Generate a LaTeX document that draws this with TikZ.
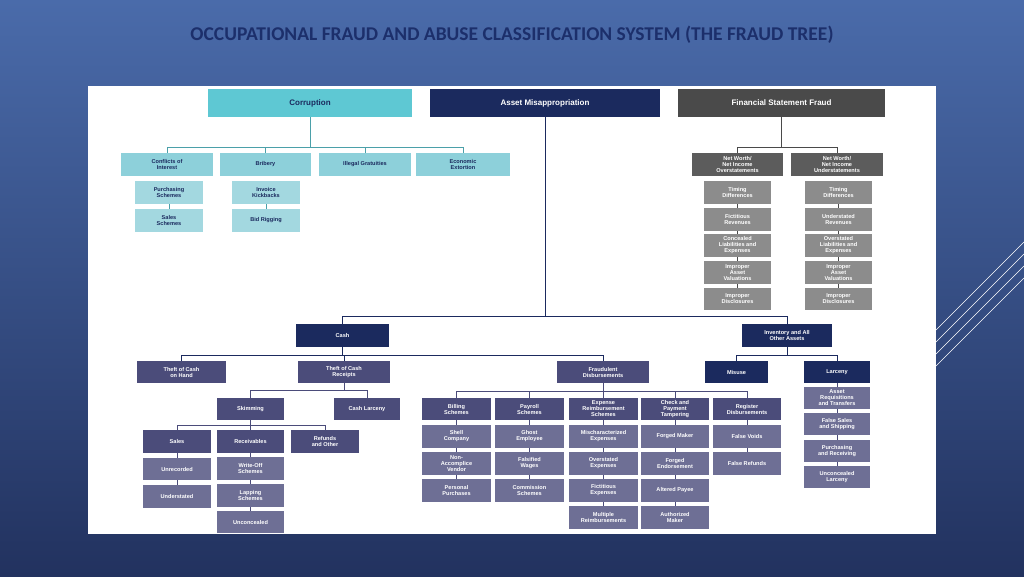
\documentclass[tikz,border=0pt]{standalone}
\usepackage{fontspec}
\setmainfont{Liberation Sans}
\newfontfamily\titlefont{Carlito}
\usetikzlibrary{calc}
\definecolor{bgtop}{HTML}{4A6BAA}
\definecolor{bgbot}{HTML}{22325F}
\definecolor{titleblue}{HTML}{1C2F6B}
\definecolor{teal}{HTML}{5EC8D3}
\definecolor{tealsub}{HTML}{8DD0DA}
\definecolor{tealleaf}{HTML}{A3D8E0}
\definecolor{navy}{HTML}{1B2A5E}
\definecolor{slate}{HTML}{4B4C7A}
\definecolor{slateleaf}{HTML}{6E6F95}
\definecolor{dgray}{HTML}{4A4A4A}
\definecolor{mgray}{HTML}{5C5C5C}
\definecolor{lgray}{HTML}{8C8C8C}

\tikzset{
  box/.style={inner sep=1pt, align=center, font=\fontsize{5.6}{6}\selectfont\bfseries},
  corr/.style={box, fill=tealsub, text=navy},
  corrleaf/.style={box, fill=tealleaf, text=navy},
  asset/.style={box, fill=navy, text=white},
  cash/.style={box, fill=slate, text=white},
  cashleaf/.style={box, fill=slateleaf, text=white},
  fsf/.style={box, fill=mgray, text=white},
  fsfleaf/.style={box, fill=lgray, text=white},
  tcon/.style={draw=teal!80!black, line width=1pt},
  acon/.style={draw=navy, line width=1pt},
  scon/.style={draw=slate, line width=1pt},
  gcon/.style={draw=dgray, line width=1pt},
}
% \bx[style]{name}{left}{top}{right}{bottom}{text}
\newcommand{\bx}[7][]{%
  \node[#1, minimum width=#5-#3, minimum height=#6-#4] (#2) at ({(#3+#5)/2},{(#4+#6)/2}) {#7};}

\begin{document}
\begin{tikzpicture}[x=1pt,y=-1pt]

%% Background
\shade[top color=bgtop, bottom color=bgbot] (0,0) rectangle (1024,576);
\useasboundingbox (0,0) rectangle (1024,576);
\node[text=titleblue, font=\titlefont\fontsize{19.5}{20}\selectfont\bfseries] (title) at (512,35) {OCCUPATIONAL FRAUD AND ABUSE CLASSIFICATION SYSTEM (THE FRAUD TREE)};
\fill[white] (88,86) rectangle (936,534);
\foreach \d in {0,12,24,36}{
  \draw[white, line width=0.6pt] (936,{330+\d}) -- (1024,{242+\d});
}

%% Top level
\bx[box, fill=teal, text=navy, font=\fontsize{8}{9}\selectfont\bfseries]{corruption}{208}{89}{412}{117}{Corruption}
\bx[asset, font=\fontsize{8}{9}\selectfont\bfseries]{assetmis}{430}{89}{660}{117}{Asset Misappropriation}
\bx[box, fill=dgray, text=white, font=\fontsize{8}{9}\selectfont\bfseries]{fsfraud}{678}{89}{885}{117}{Financial Statement Fraud}

%% Corruption
\bx[corr]{conflicts}{121}{153}{213}{176}{Conflicts of\\Interest}
\bx[corr]{bribery}{220}{153}{311}{176}{Bribery}
\bx[corr]{gratuities}{319}{153}{411}{176}{Illegal Gratuities}
\bx[corr]{extortion}{416}{153}{510}{176}{Economic\\Extortion}
\bx[corrleaf]{purchasing}{135}{181}{203}{204}{Purchasing\\Schemes}
\bx[corrleaf]{salessch}{135}{209}{203}{232}{Sales\\Schemes}
\bx[corrleaf]{kickbacks}{232}{181}{300}{204}{Invoice\\Kickbacks}
\bx[corrleaf]{bidrig}{232}{209}{300}{232}{Bid Rigging}
\foreach \c in {conflicts,bribery,gratuities,extortion}{
  \draw[tcon] (corruption.south) -- (corruption.south |- 0,147) -| (\c.north);
}
\draw[tcon] (purchasing) -- (salessch);
\draw[tcon] (kickbacks) -- (bidrig);

%% Financial statement fraud
\bx[fsf]{over}{692}{153}{783}{176}{Net Worth/\\Net Income\\Overstatements}
\bx[fsf]{under}{791}{153}{883}{176}{Net Worth/\\Net Income\\Understatements}
\foreach \c in {over,under}{
  \draw[gcon] (fsfraud.south) -- (fsfraud.south |- 0,147) -| (\c.north);
}
\bx[fsfleaf]{otime}{704}{181}{771}{204}{Timing\\Differences}
\bx[fsfleaf]{orev}{704}{208}{771}{231}{Fictitious\\Revenues}
\bx[fsfleaf]{oliab}{704}{234}{771}{257}{Concealed\\Liabilities and\\Expenses}
\bx[fsfleaf]{oasset}{704}{261}{771}{284}{Improper\\Asset\\Valuations}
\bx[fsfleaf]{odisc}{704}{288}{771}{310}{Improper\\Disclosures}
\bx[fsfleaf]{utime}{805}{181}{872}{204}{Timing\\Differences}
\bx[fsfleaf]{urev}{805}{208}{872}{231}{Understated\\Revenues}
\bx[fsfleaf]{uliab}{805}{234}{872}{257}{Overstated\\Liabilities and\\Expenses}
\bx[fsfleaf]{uasset}{805}{261}{872}{284}{Improper\\Asset\\Valuations}
\bx[fsfleaf]{udisc}{805}{288}{872}{310}{Improper\\Disclosures}
\draw[gcon] (otime) -- (orev) -- (oliab) -- (oasset) -- (odisc);
\draw[gcon] (utime) -- (urev) -- (uliab) -- (uasset) -- (udisc);

%% Asset misappropriation
\bx[asset]{cash}{296}{324}{389}{347}{Cash}
\bx[asset]{inventory}{742}{324}{832}{347}{Inventory and All\\Other Assets}
\foreach \c in {cash,inventory}{
  \draw[acon] (assetmis.south) -- (assetmis.south |- 0,316) -| (\c.north);
}
\bx[cash]{onhand}{137}{361}{226}{383}{Theft of Cash\\on Hand}
\bx[cash]{receipts}{298}{361}{390}{383}{Theft of Cash\\Receipts}
\bx[cash]{disburse}{557}{361}{649}{383}{Fraudulent\\Disbursements}
\foreach \c in {onhand,receipts,disburse}{
  \draw[acon] (cash.south) -- (cash.south |- 0,355) -| (\c.north);
}
\bx[asset]{misuse}{705}{361}{768}{383}{Misuse}
\bx[asset]{larceny}{804}{361}{870}{383}{Larceny}
\foreach \c in {misuse,larceny}{
  \draw[acon] (inventory.south) -- (inventory.south |- 0,355) -| (\c.north);
}

%% Theft of cash receipts
\bx[cash]{skimming}{217}{398}{284}{420}{Skimming}
\bx[cash]{cashlarc}{334}{398}{400}{420}{Cash Larceny}
\foreach \c in {skimming,cashlarc}{
  \draw[scon] (receipts.south) -- (receipts.south |- 0,390) -| (\c.north);
}
\bx[cash]{sales}{143}{430}{211}{453}{Sales}
\bx[cash]{receiv}{217}{430}{284}{453}{Receivables}
\bx[cash]{refunds}{291}{430}{359}{453}{Refunds\\and Other}
\foreach \c in {sales,receiv,refunds}{
  \draw[scon] (skimming.south) -- (skimming.south |- 0,425) -| (\c.north);
}
\bx[cashleaf]{unrec}{143}{458}{211}{480}{Unrecorded}
\bx[cashleaf]{understated}{143}{485}{211}{508}{Understated}
\bx[cashleaf]{writeoff}{217}{457}{284}{480}{Write-Off\\Schemes}
\bx[cashleaf]{lapping}{217}{484}{284}{507}{Lapping\\Schemes}
\bx[cashleaf]{unconc}{217}{511}{284}{533}{Unconcealed}
\draw[scon] (sales) -- (unrec) -- (understated);
\draw[scon] (receiv) -- (writeoff) -- (lapping) -- (unconc);

%% Fraudulent disbursements
\bx[cash]{billing}{422}{398}{491}{420}{Billing\\Schemes}
\bx[cash]{payroll}{495}{398}{564}{420}{Payroll\\Schemes}
\bx[cash]{expense}{569}{398}{638}{420}{Expense\\Reimbursement\\Schemes}
\bx[cash]{check}{641}{398}{709}{420}{Check and\\Payment\\Tampering}
\bx[cash]{register}{713}{398}{781}{420}{Register\\Disbursements}
\foreach \c in {billing,payroll,expense,check,register}{
  \draw[scon] (disburse.south) -- (disburse.south |- 0,391) -| (\c.north);
}
\bx[cashleaf]{shell}{422}{425}{491}{448}{Shell\\Company}
\bx[cashleaf]{nonacc}{422}{452}{491}{475}{Non-\\Accomplice\\Vendor}
\bx[cashleaf]{personal}{422}{479}{491}{502}{Personal\\Purchases}
\bx[cashleaf]{ghost}{495}{425}{564}{448}{Ghost\\Employee}
\bx[cashleaf]{falsified}{495}{452}{564}{475}{Falsified\\Wages}
\bx[cashleaf]{commission}{495}{479}{564}{502}{Commission\\Schemes}
\bx[cashleaf]{mischar}{569}{425}{638}{448}{Mischaracterized\\Expenses}
\bx[cashleaf]{overexp}{569}{452}{638}{475}{Overstated\\Expenses}
\bx[cashleaf]{fictexp}{569}{479}{638}{502}{Fictitious\\Expenses}
\bx[cashleaf]{multiple}{569}{506}{638}{529}{Multiple\\Reimbursements}
\bx[cashleaf]{forgedmk}{641}{425}{709}{448}{Forged Maker}
\bx[cashleaf]{forgeden}{641}{452}{709}{475}{Forged\\Endorsement}
\bx[cashleaf]{altered}{641}{479}{709}{502}{Altered Payee}
\bx[cashleaf]{authmk}{641}{506}{709}{529}{Authorized\\Maker}
\bx[cashleaf]{voids}{713}{425}{781}{448}{False Voids}
\bx[cashleaf]{frefunds}{713}{452}{781}{475}{False Refunds}
\draw[scon] (billing) -- (shell) -- (nonacc) -- (personal);
\draw[scon] (payroll) -- (ghost) -- (falsified) -- (commission);
\draw[scon] (expense) -- (mischar) -- (overexp) -- (fictexp) -- (multiple);
\draw[scon] (check) -- (forgedmk) -- (forgeden) -- (altered) -- (authmk);
\draw[scon] (register) -- (voids) -- (frefunds);

%% Larceny
\bx[cashleaf]{requis}{804}{387}{870}{409}{Asset\\Requisitions\\and Transfers}
\bx[cashleaf]{falsesales}{804}{413}{870}{435}{False Sales\\and Shipping}
\bx[cashleaf]{purchrec}{804}{440}{870}{462}{Purchasing\\and Receiving}
\bx[cashleaf]{unconclarc}{804}{466}{870}{488}{Unconcealed\\Larceny}
\draw[scon] (larceny) -- (requis) -- (falsesales) -- (purchrec) -- (unconclarc);

\end{tikzpicture}
\end{document}
